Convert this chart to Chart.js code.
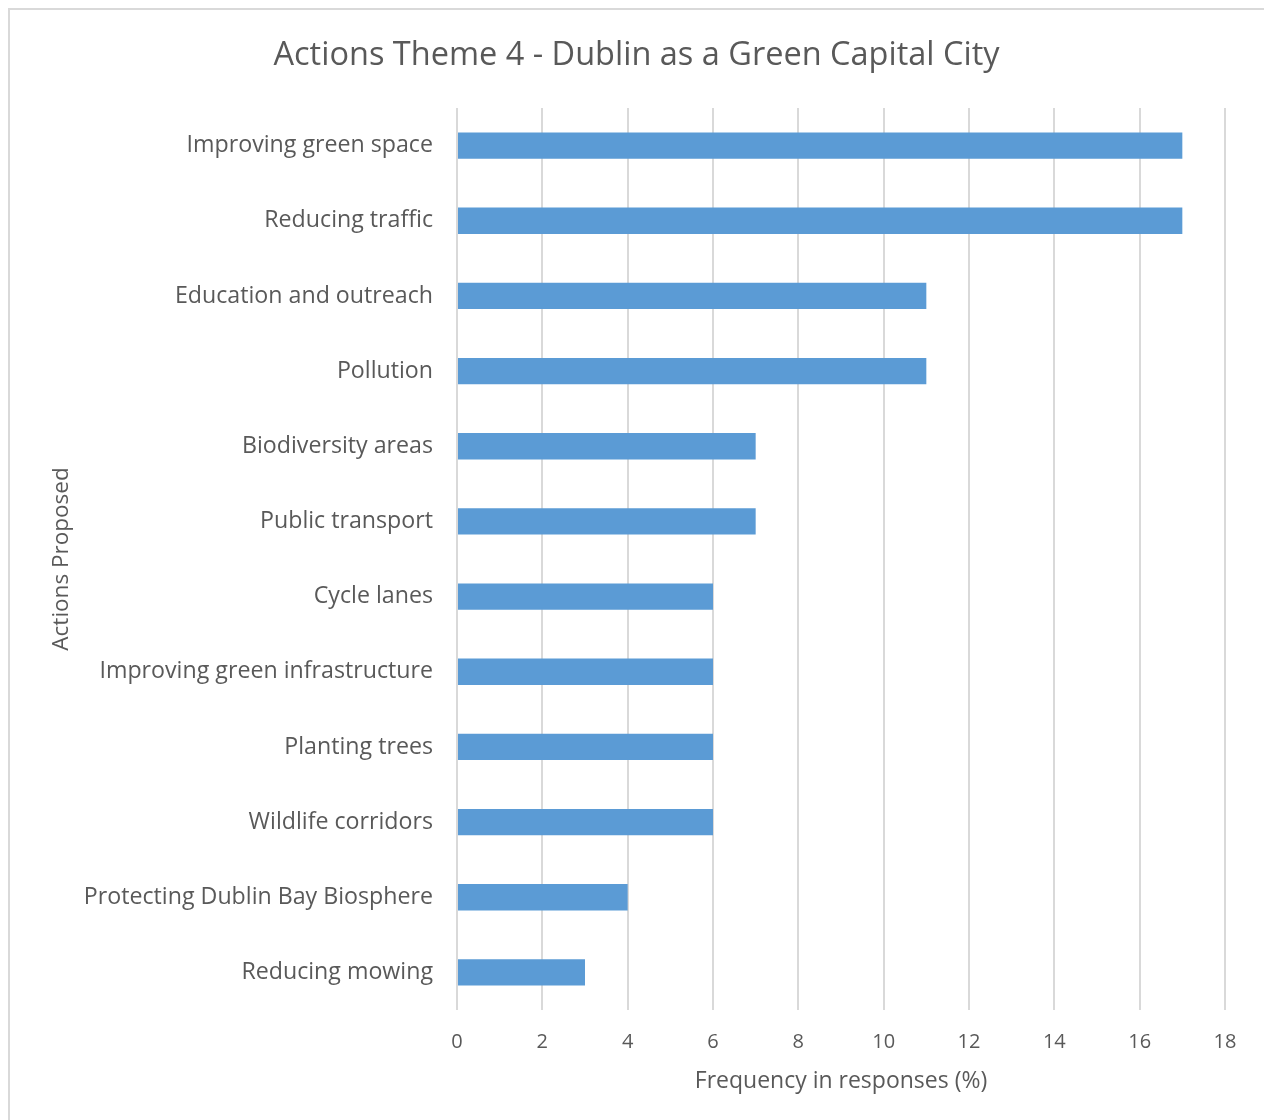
<!DOCTYPE html>
<html>
<head>
<meta charset="utf-8">
<script src="https://cdn.jsdelivr.net/npm/chart.js@4"></script>
<style>
  html, body { margin: 0; padding: 0; background: #fff; }
  #wrap { position: relative; width: 1264px; height: 1120px; overflow: hidden; }
  #frame { position: absolute; left: 8px; top: 8px; width: 1300px; height: 1200px;
           border: 2px solid #d9d9d9; box-sizing: border-box; }
  #chart { position: absolute; left: 0; top: 0; }
</style>
</head>
<body>
<div id="wrap">
  <div id="frame"></div>
  <canvas id="chart" width="1264" height="1120"></canvas>
</div>
<script>
// categories, top to bottom
const actions = [
  'Improving green space',
  'Reducing traffic',
  'Education and outreach',
  'Pollution',
  'Biodiversity areas',
  'Public transport',
  'Cycle lanes',
  'Improving green infrastructure',
  'Planting trees',
  'Wildlife corridors',
  'Protecting Dublin Bay Biosphere',
  'Reducing mowing'
];
// frequency in responses (%)
const frequency = [17, 17, 11, 11, 7, 7, 6, 6, 6, 6, 4, 3];
const xTicks = [0, 2, 4, 6, 8, 10, 12, 14, 16, 18];

const textColor = '#595959';
const fontFamily = '"Open Sans", "Noto Sans", sans-serif';

const ctx = document.getElementById('chart').getContext('2d');
new Chart(ctx, {
  type: 'bar',
  data: {
    labels: actions,
    datasets: [{
      label: 'Frequency',
      data: frequency,
      backgroundColor: '#5b9bd5',
      borderWidth: 0,
      barPercentage: 0.35,
      categoryPercentage: 1
    }]
  },
  options: {
    indexAxis: 'y',
    responsive: false,
    animation: false,
    layout: {
      padding: { left: 48, right: 39, top: 0, bottom: 0 }
    },
    plugins: {
      legend: { display: false },
      tooltip: { enabled: false },
      title: {
        display: true,
        text: 'Actions Theme 4 - Dublin as a Green Capital City',
        color: textColor,
        font: { family: fontFamily, size: 32.5, weight: 'normal' },
        padding: { top: 36, bottom: 33 }
      }
    },
    scales: {
      x: {
        min: 0,
        max: 18,
        afterBuildTicks: (scale) => {
          scale.ticks = xTicks.map(v => ({ value: v }));
        },
        afterFit: (scale) => { scale.height = 110; },
        grid: { color: '#d9d9d9', lineWidth: 2, drawTicks: false },
        border: { display: false },
        ticks: {
          color: textColor,
          padding: 20,
          font: { family: fontFamily, size: 20 }
        },
        title: {
          display: true,
          text: 'Frequency in responses (%)',
          color: textColor,
          font: { family: fontFamily, size: 23 },
          padding: { top: 0, bottom: 25 }
        }
      },
      y: {
        afterFit: (scale) => { scale.width = 409; },
        grid: { display: false, drawTicks: false },
        border: { display: false },
        ticks: {
          color: textColor,
          padding: 24,
          font: { family: fontFamily, size: 23.2 }
        },
        title: {
          display: true,
          text: 'Actions Proposed',
          color: textColor,
          font: { family: fontFamily, size: 22.5 },
          padding: { top: 0, bottom: 0 }
        }
      }
    }
  }
});
</script>
</body>
</html>
